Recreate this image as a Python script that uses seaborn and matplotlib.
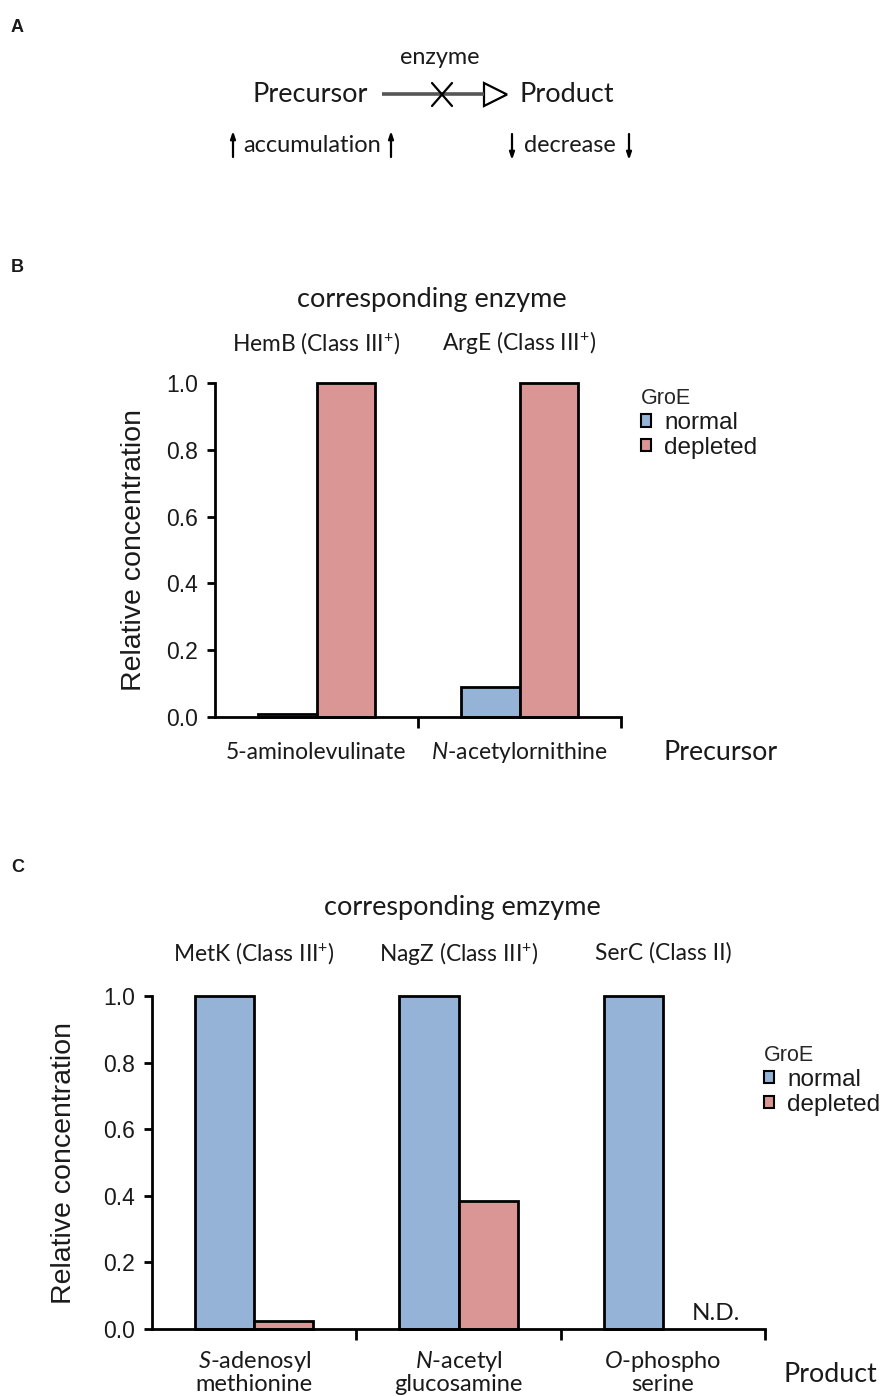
import numpy as np
import pandas as pd
import matplotlib
matplotlib.use("Agg")
import matplotlib.pyplot as plt
import seaborn as sns
from matplotlib.patches import Patch, Polygon
from matplotlib.transforms import blended_transform_factory
from matplotlib.ticker import FormatStrFormatter

# ---------------- data ----------------
groe_levels = ["normal", "depleted"]
groe_colors = ["#95B3D7", "#D99694"]

precursors = ["5-aminolevulinate", "N-acetylornithine"]
precursor_labels = ["5-aminolevulinate", r"$\mathit{N}$-acetylornithine"]
precursor_enzymes = [r"HemB (Class III$^{+}$)", r"ArgE (Class III$^{+}$)"]
precursor_normal = [0.01, 0.09]
precursor_depleted = [1.0, 1.0]

products = ["S-adenosylmethionine", "N-acetylglucosamine", "O-phosphoserine"]
product_labels = [r"$\mathit{S}$-adenosyl" + "\nmethionine",
                  r"$\mathit{N}$-acetyl" + "\nglucosamine",
                  r"$\mathit{O}$-phospho" + "\nserine"]
product_enzymes = [r"MetK (Class III$^{+}$)", r"NagZ (Class III$^{+}$)", "SerC (Class II)"]
product_normal = [1.0, 1.0, 1.0]
product_depleted = [0.025, 0.385, np.nan]   # N.D. for O-phosphoserine

yticks = [0.0, 0.2, 0.4, 0.6, 0.8, 1.0]

# ---------------- style ----------------
sns.set_theme(style="white")
plt.rcParams["font.family"] = ["Lato", "DejaVu Sans"]
plt.rcParams["mathtext.fontset"] = "custom"
plt.rcParams["mathtext.rm"] = "Lato"
plt.rcParams["mathtext.it"] = "Lato:italic"
plt.rcParams["mathtext.bf"] = "Lato:bold"
plt.rcParams["mathtext.sf"] = "Lato"
ARIAL = ["Liberation Sans", "DejaVu Sans"]
TXT = "#1a1a1a"

W, H = 880, 1396
fig = plt.figure(figsize=(W / 100, H / 100), dpi=100)

# overlay axes in pixel coordinates for the schematic (panel A) and panel letters
ax0 = fig.add_axes([0, 0, 1, 1])
ax0.set_xlim(0, W)
ax0.set_ylim(H, 0)
ax0.axis("off")

for letter, (lx, ly) in zip(["A", "B", "C"], [(11, 28), (11, 267), (11, 868)]):
    ax0.text(lx, ly, letter, fontsize=13, fontweight="bold", family=ARIAL,
             ha="left", va="center", color=TXT)

# schematic
ax0.text(440, 58, "enzyme", fontsize=16.8, ha="center", va="center", color=TXT)
ax0.text(310, 95, "Precursor", fontsize=19.5, ha="center", va="center", color=TXT)
ax0.text(567, 95, "Product", fontsize=19.5, ha="center", va="center", color=TXT)
ax0.plot([382, 484], [94, 94], color="#555555", lw=2.6, solid_capstyle="butt")
ax0.plot([432, 452], [83, 106], color="black", lw=1.6)
ax0.plot([432, 452], [106, 83], color="black", lw=1.6)
ax0.add_patch(Polygon([[484, 83], [484, 106], [507, 94.5]], closed=True,
                      fill=False, edgecolor="black", lw=1.6))
ax0.text(312, 145, "accumulation", fontsize=17, ha="center", va="center", color=TXT)
ax0.text(570, 145, "decrease", fontsize=16.8, ha="center", va="center", color=TXT)
arrow_kw = dict(arrowstyle="-|>,head_length=0.35,head_width=0.12", lw=1.6,
                color="black", shrinkA=0, shrinkB=0)
for xa in (233, 391):
    ax0.annotate("", xy=(xa, 131), xytext=(xa, 157), arrowprops=arrow_kw)
for xa in (512, 629):
    ax0.annotate("", xy=(xa, 160), xytext=(xa, 134), arrowprops=arrow_kw)


def bar_panel(rect, cats, labels, normal, depleted, enzymes, title, title_pos,
              enz_y, xname, xname_pos, label_y, label_size, leg_anchor, ylabel_x):
    ax = fig.add_axes(rect)
    ax.set_facecolor("none")
    n = len(cats)
    df = pd.DataFrame({
        "category": cats * 2,
        "GroE": ["normal"] * n + ["depleted"] * n,
        "value": list(normal) + list(depleted),
    })
    sns.barplot(data=df, x="category", y="value", hue="GroE", order=cats,
                hue_order=groe_levels, palette=groe_colors, saturation=1,
                width=0.58, edgecolor="black", linewidth=2, errorbar=None,
                legend=False, ax=ax)
    for p in ax.patches:
        p.set_clip_on(False)

    ax.set_xlim(-0.5, n - 0.5)
    ax.set_ylim(0, 1.0)
    ax.set_yticks(yticks)
    ax.yaxis.set_major_formatter(FormatStrFormatter("%.1f"))
    ax.set_xticks(np.arange(n))
    ax.set_xticklabels([])
    ax.set_xticks(np.arange(n) + 0.5, minor=True)
    ax.tick_params(axis="x", which="major", length=0, bottom=True)
    ax.tick_params(axis="x", which="minor", length=8, width=2, bottom=True,
                   direction="out", color="black")
    ax.tick_params(axis="y", which="major", length=6, width=2, left=True,
                   direction="out", color="black", labelsize=16.5, pad=6,
                   labelfontfamily="Liberation Sans", labelcolor=TXT)
    for s in ("top", "right"):
        ax.spines[s].set_visible(False)
    for s in ("left", "bottom"):
        ax.spines[s].set_visible(True)
        ax.spines[s].set_color("black")
        ax.spines[s].set_linewidth(2)
    ax.set_xlabel("")
    ax.set_ylabel("Relative concentration", fontsize=20.5, family=ARIAL,
                  color=TXT)
    ax.yaxis.set_label_coords(ylabel_x, 0.5)

    tr = blended_transform_factory(ax.transData, ax.transAxes)
    for i, (lab, enz) in enumerate(zip(labels, enzymes)):
        ax.text(i, label_y, lab, transform=tr, ha="center", va="center",
                fontsize=label_size, linespacing=1.0, color=TXT)
        ax.text(i, enz_y, enz, transform=tr, ha="center", va="center",
                fontsize=16.4, color=TXT)
    ax.text(title_pos[0], title_pos[1], title, transform=ax.transAxes,
            ha="center", va="center", fontsize=19.5, color=TXT)
    ax.text(xname_pos[0], xname_pos[1], xname, transform=ax.transAxes,
            ha="center", va="center", fontsize=19.3, color=TXT)

    # not-detected marks
    for i, v in enumerate(depleted):
        if np.isnan(v):
            ax.text(i + 0.26, 0.015, "N.D.", ha="center", va="bottom",
                    fontsize=17.5, color=TXT)

    handles = [Patch(facecolor=c, edgecolor="black", linewidth=1.5, label=l)
               for c, l in zip(groe_colors, groe_levels)]
    ax.legend(handles=handles, title="GroE", loc="upper left",
              bbox_to_anchor=leg_anchor, frameon=False, borderpad=0,
              borderaxespad=0, handlelength=0.42, handleheight=0.42,
              handletextpad=0.55, labelspacing=0.12, alignment="left",
              labelcolor=TXT,
              prop={"family": "Liberation Sans", "size": 17.5},
              title_fontproperties={"family": "Liberation Sans", "size": 15.5})
    return ax


# panel B (precursors)
bar_panel(rect=[215 / W, 1 - 717 / H, 406 / W, 334 / H],
          cats=precursors, labels=precursor_labels,
          normal=precursor_normal, depleted=precursor_depleted,
          enzymes=precursor_enzymes, title="corresponding enzyme",
          title_pos=(0.534, 1.249), enz_y=1.12,
          xname="Precursor", xname_pos=(1.244, -0.105), label_y=-0.105,
          label_size=16.5, leg_anchor=(1.049, 0.985), ylabel_x=-0.168)

# panel C (products)
bar_panel(rect=[152 / W, 1 - 1329 / H, 613 / W, 333 / H],
          cats=products, labels=product_labels,
          normal=product_normal, depleted=product_depleted,
          enzymes=product_enzymes, title="corresponding emzyme",
          title_pos=(0.506, 1.267), enz_y=1.129,
          xname="Product", xname_pos=(1.106, -0.138), label_y=-0.13,
          label_size=17, leg_anchor=(0.998, 0.853), ylabel_x=-0.122)

fig.savefig("out.png", dpi=100)
